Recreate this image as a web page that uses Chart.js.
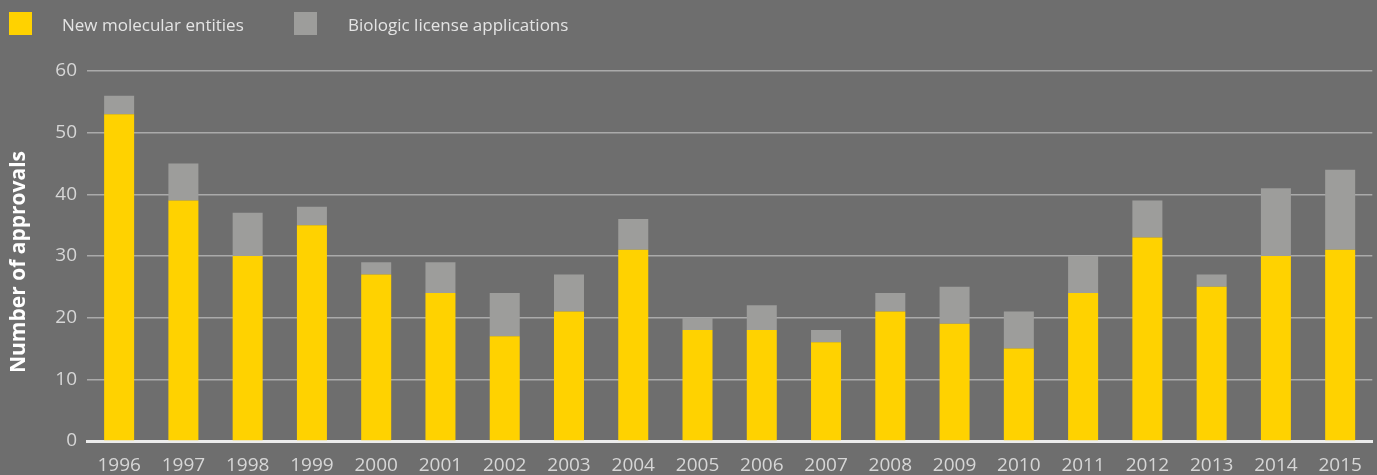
<!DOCTYPE html>
<html>
<head>
<meta charset="utf-8">
<title>FDA approvals 1996–2015</title>
<script src="https://cdn.jsdelivr.net/npm/chart.js@4/dist/chart.umd.min.js"></script>
<style>
  html, body { margin: 0; padding: 0; background: #6e6e6e; overflow: hidden; }
  #wrap { width: 1377px; height: 475px; }
</style>
</head>
<body>
<div id="wrap"><canvas id="chart" width="1377" height="475"></canvas></div>
<script>
// Approvals per year
const years = ['1996','1997','1998','1999','2000','2001','2002','2003','2004','2005',
               '2006','2007','2008','2009','2010','2011','2012','2013','2014','2015'];
const newMolecularEntities = [53, 39, 30, 35, 27, 24, 17, 21, 31, 18, 18, 16, 21, 19, 15, 24, 33, 25, 30, 31];
const biologicLicenseApps  = [ 3,  6,  7,  3,  2,  5,  7,  6,  5,  2,  4,  2,  3,  6,  6,  6,  6,  2, 11, 13];
const yTicks = [0, 10, 20, 30, 40, 50, 60];

const seriesNames = ['New molecular entities', 'Biologic license applications'];
const YELLOW = '#ffd200';
const GREY = '#9d9d9b';
const BG = '#6e6e6e';
const FONT = '"Open Sans", "DejaVu Sans", sans-serif';

// Paint background, legend and rotated axis title
const decor = {
  id: 'decor',
  beforeDraw(chart) {
    const ctx = chart.ctx;
    ctx.save();
    ctx.fillStyle = BG;
    ctx.fillRect(0, 0, chart.width, chart.height);
    ctx.restore();
  },
  afterDraw(chart) {
    const ctx = chart.ctx;
    ctx.save();
    // legend
    const items = [
      { box: 9, text: 62, color: YELLOW, label: seriesNames[0] },
      { box: 294, text: 348, color: GREY, label: seriesNames[1] }
    ];
    ctx.font = '17px ' + FONT;
    ctx.textBaseline = 'alphabetic';
    ctx.textAlign = 'left';
    items.forEach(it => {
      ctx.fillStyle = it.color;
      ctx.fillRect(it.box, 12, 23, 23);
      ctx.fillStyle = '#e4e4e4';
      ctx.fillText(it.label, it.text, 31);
    });
    // y axis title
    ctx.translate(19, 262);
    ctx.rotate(-Math.PI / 2);
    ctx.font = 'bold 21px ' + FONT;
    ctx.textAlign = 'center';
    ctx.textBaseline = 'middle';
    ctx.fillStyle = '#ffffff';
    ctx.fillText('Number of approvals', 0, 0);
    ctx.restore();
  }
};

new Chart(document.getElementById('chart'), {
  type: 'bar',
  data: {
    labels: years,
    datasets: [
      { label: seriesNames[0], data: newMolecularEntities, backgroundColor: YELLOW,
        borderWidth: 0, barPercentage: 0.467, categoryPercentage: 1 },
      { label: seriesNames[1], data: biologicLicenseApps, backgroundColor: GREY,
        borderWidth: 0, barPercentage: 0.467, categoryPercentage: 1 }
    ]
  },
  options: {
    responsive: false,
    animation: false,
    devicePixelRatio: 1,
    layout: { padding: { top: 71, right: 4, bottom: 0, left: 0 } },
    plugins: { legend: { display: false }, tooltip: { enabled: false } },
    scales: {
      x: {
        stacked: true,
        afterFit(scale) { scale.height = 34; },
        grid: { display: false, drawTicks: false },
        border: { display: true, color: '#ececec', width: 3 },
        ticks: { color: '#d6d6d6', padding: 15, maxRotation: 0,
                 font: { family: FONT, size: 19, lineHeight: 1.05 } }
      },
      y: {
        stacked: true,
        min: 0,
        max: 60,
        afterFit(scale) { scale.width = 87; },
        afterBuildTicks(scale) { scale.ticks = yTicks.map(v => ({ value: v })); },
        border: { display: false },
        grid: {
          drawTicks: false,
          lineWidth: 1.5,
          color: c => (c.tick && c.tick.value === 0) ? 'rgba(0,0,0,0)' : '#aaaaaa'
        },
        ticks: { color: '#d6d6d6', padding: 10, font: { family: FONT, size: 19 } }
      }
    }
  },
  plugins: [decor]
});
</script>
</body>
</html>
